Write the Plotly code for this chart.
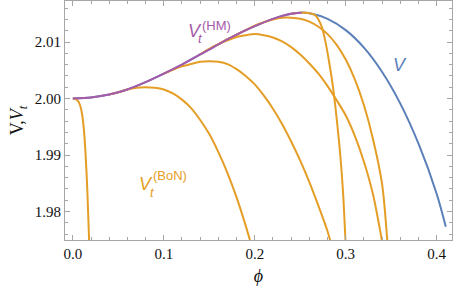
import plotly.graph_objects as go

# ---- data ----
V_phi = [0.00, 0.02, 0.04, 0.06, 0.08, 0.10, 0.12, 0.14, 0.16, 0.18, 0.20, 0.22, 0.24, 0.25,
         0.26, 0.28, 0.30, 0.32, 0.34, 0.36, 0.38, 0.40, 0.41]
V_val = [2.0000, 2.0002, 2.0007, 2.0016, 2.0029, 2.0044, 2.0060, 2.0078, 2.0096, 2.0113, 2.0128,
         2.0141, 2.0150, 2.0152, 2.0151, 2.0141, 2.0121, 2.0090, 2.0047, 1.9991, 1.9920, 1.9831,
         1.9773]

HM_phi = [0.00, 0.02, 0.04, 0.06, 0.08, 0.10, 0.12, 0.14, 0.16, 0.18, 0.20, 0.22, 0.24, 0.2516]
HM_val = [2.0000, 2.0002, 2.0007, 2.0016, 2.0029, 2.0044, 2.0060, 2.0078, 2.0096, 2.0113, 2.0128,
          2.0141, 2.0150, 2.0152]

A_phi = [0.000, 0.003, 0.006, 0.008, 0.010, 0.012, 0.014, 0.016, 0.0180]
A_val = [2.0000, 1.9999, 1.9995, 1.9988, 1.9974, 1.9948, 1.9902, 1.9835, 1.9745]

B_phi = [0.04, 0.05, 0.06, 0.07, 0.08, 0.09, 0.10, 0.11, 0.12, 0.13, 0.14, 0.15, 0.16, 0.17,
         0.18, 0.19, 0.1955]
B_val = [2.0007, 2.0011, 2.0016, 2.0019, 2.0020, 2.0019, 2.0016, 2.0009, 1.9998, 1.9983, 1.9962,
         1.9937, 1.9905, 1.9868, 1.9825, 1.9775, 1.9745]

C_phi = [0.10, 0.11, 0.12, 0.13, 0.14, 0.15, 0.16, 0.17, 0.18, 0.19, 0.20, 0.21, 0.22, 0.23,
         0.24, 0.25, 0.26, 0.27, 0.28, 0.2835]
C_val = [2.0044, 2.0051, 2.0057, 2.0061, 2.0065, 2.0066, 2.0065, 2.0061, 2.0052, 2.0040, 2.0025,
         2.0005, 1.9982, 1.9955, 1.9924, 1.9890, 1.9852, 1.9810, 1.9765, 1.9745]

E_phi = [0.14, 0.15, 0.16, 0.17, 0.18, 0.19, 0.20, 0.21, 0.22, 0.23, 0.24, 0.25, 0.26, 0.27,
         0.28, 0.29, 0.30, 0.31, 0.32, 0.33, 0.3402]
E_val = [2.0078, 2.0088, 2.0096, 2.0103, 2.0109, 2.0112, 2.0114, 2.0112, 2.0108, 2.0101, 2.0091,
         2.0078, 2.0062, 2.0044, 2.0022, 1.9997, 1.9970, 1.9934, 1.9888, 1.9830, 1.9745]

D_phi = [0.16, 0.17, 0.18, 0.19, 0.20, 0.21, 0.22, 0.23, 0.24, 0.25, 0.26, 0.27, 0.28, 0.29,
         0.30, 0.31, 0.32, 0.33, 0.34, 0.3458]
D_val = [2.0096, 2.0105, 2.0113, 2.0121, 2.0129, 2.0135, 2.0140, 2.0143, 2.0143, 2.0141, 2.0136,
         2.0127, 2.0114, 2.0095, 2.0069, 2.0034, 1.9988, 1.9928, 1.9848, 1.9745]

F_phi = [0.24, 0.25, 0.26, 0.266, 0.270, 0.274, 0.278, 0.282, 0.286, 0.290, 0.294, 0.297, 0.2998]
F_val = [2.0150, 2.0152, 2.0151, 2.0148, 2.0140, 2.0125, 2.0098, 2.0062, 2.0020, 1.9965, 1.9900,
         1.9835, 1.9745]

BON_series = [(A_phi, A_val), (B_phi, B_val), (C_phi, C_val), (E_phi, E_val), (D_phi, D_val),
              (F_phi, F_val)]

x_ticks = [0.0, 0.1, 0.2, 0.3, 0.4]
y_ticks = [1.98, 1.99, 2.00, 2.01]

# ---- styling ----
BLUE = "#5B80B9"
ORANGE = "#E49E26"
PURPLE = "#A55BA9"
FRAME = "#A6A6A6"
W, H = 455, 295
ML, MR, MT, MB = 65, 3, 1, 55

fig = go.Figure()
fig.add_trace(go.Scatter(x=V_phi, y=V_val, mode="lines",
                         line=dict(color=BLUE, width=2, shape="spline", smoothing=0.8)))
for ph, vv in BON_series:
    fig.add_trace(go.Scatter(x=ph, y=vv, mode="lines",
                             line=dict(color=ORANGE, width=2, shape="spline", smoothing=0.8)))
fig.add_trace(go.Scatter(x=HM_phi, y=HM_val, mode="lines",
                         line=dict(color=PURPLE, width=2, shape="spline", smoothing=0.8)))

pw, ph_ = W - ML - MR, H - MT - MB


def px(x):
    return (x - ML) / pw


def py(y):
    return (H - MB - y) / ph_


SANS = "Liberation Sans, Arial, sans-serif"
ann = []


def label(text, x, y, size, color):
    ann.append(dict(text=text, x=px(x), y=py(y), xref="paper", yref="paper",
                    xanchor="left", yanchor="middle", showarrow=False,
                    font=dict(family=SANS, size=size, color=color)))


label("<i>V</i>", 186, 31, 18, PURPLE)
label("<i>t</i>", 196, 39, 13, PURPLE)
label("(HM)", 200, 25, 13, PURPLE)
label("<i>V</i>", 137, 184, 18, ORANGE)
label("<i>t</i>", 148, 192, 13, ORANGE)
label("(BoN)", 151, 175, 13, ORANGE)
label("<i>V</i>", 391, 65, 18, BLUE)

axis_common = dict(showline=True, linecolor=FRAME, linewidth=1, mirror="ticks",
                   ticks="inside", tickcolor=FRAME, ticklen=5, tickwidth=1,
                   showgrid=False, zeroline=False,
                   tickfont=dict(family="Liberation Serif, Times New Roman, serif",
                                 size=15, color="#111111"))

fig.update_layout(
    width=W, height=H, margin=dict(l=ML, r=MR, t=MT, b=MB),
    paper_bgcolor="white", plot_bgcolor="white", showlegend=False,
    hovermode=False,
    annotations=ann,
    xaxis=dict(range=[-0.0086, 0.4168], tickvals=x_ticks, tickformat=".1f",
               minor=dict(dtick=0.02, ticks="inside", ticklen=3, tickcolor=FRAME),
               title=dict(text="<i>ϕ</i>", standoff=8,
                          font=dict(family="Liberation Serif, Times New Roman, serif",
                                    size=18, color="#111111")),
               **axis_common),
    yaxis=dict(range=[1.97496, 2.01726], tickvals=y_ticks, tickformat=".2f",
               minor=dict(dtick=0.002, ticks="inside", ticklen=3, tickcolor=FRAME),
               title=dict(text="V,<i>V</i><sub><i>t</i></sub>", standoff=6,
                          font=dict(family="Liberation Serif, Times New Roman, serif",
                                    size=18, color="#111111")),
               **axis_common),
)

fig.write_html("out.html", config={"displayModeBar": False},
               post_script="document.body.style.margin='0';")
